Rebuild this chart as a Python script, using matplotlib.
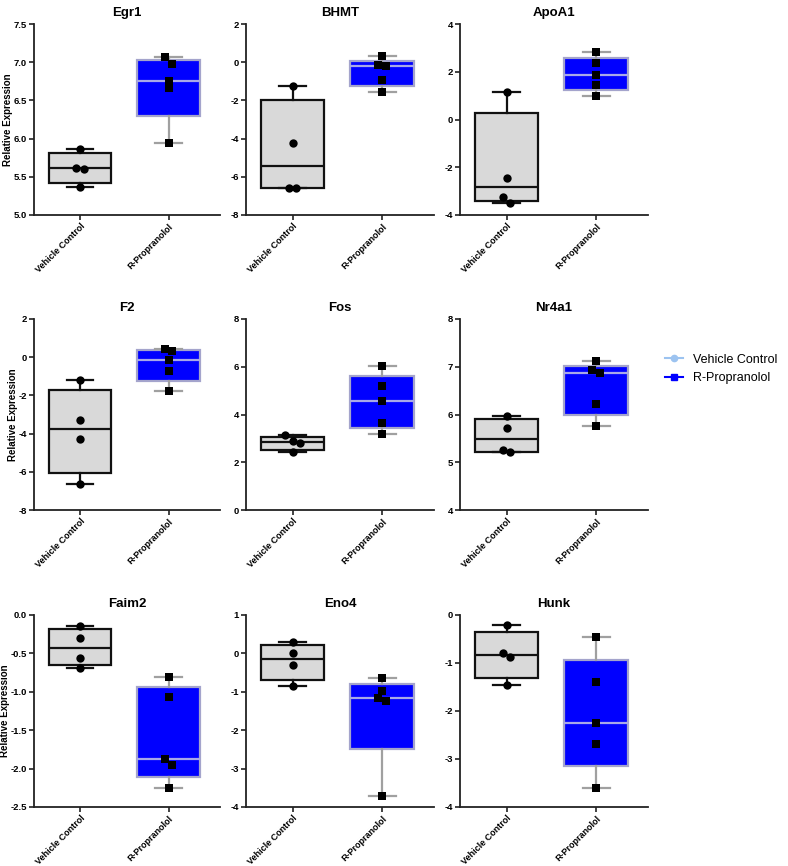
import numpy as np
import matplotlib
matplotlib.use("Agg")
import matplotlib.pyplot as plt
from matplotlib.lines import Line2D

plt.rcParams['font.family'] = ['Liberation Sans', 'DejaVu Sans']

groups = ["Vehicle Control", "R-Propranolol"]
genes = ["Egr1", "BHMT", "ApoA1", "F2", "Fos", "Nr4a1", "Faim2", "Eno4", "Hunk"]

egr1_vehicle = [5.87, 5.62, 5.60, 5.36]
egr1_rprop = [7.065, 6.98, 6.76, 6.66, 5.94]
bhmt_vehicle = [-1.22, -4.25, -6.60, -6.61]
bhmt_rprop = [0.30, -0.16, -0.19, -0.93, -1.57]
apoa1_vehicle = [1.17, -2.45, -3.24, -3.49]
apoa1_rprop = [2.82, 2.37, 1.85, 1.45, 1.00]
f2_vehicle = [-1.21, -3.27, -4.27, -6.63]
f2_rprop = [0.44, 0.30, -0.13, -0.73, -1.77]
fos_vehicle = [3.13, 2.91, 2.81, 2.41]
fos_rprop = [6.04, 5.19, 4.56, 3.65, 3.19]
nr4a1_vehicle = [5.96, 5.72, 5.26, 5.21]
nr4a1_rprop = [7.12, 6.93, 6.86, 6.23, 5.76]
faim2_vehicle = [-0.143, -0.30, -0.555, -0.685]
faim2_rprop = [-0.805, -1.07, -1.88, -1.957, -2.25]
eno4_vehicle = [0.305, 0.0, -0.29, -0.84]
eno4_rprop = [-0.64, -0.97, -1.17, -1.25, -3.71]
hunk_vehicle = [-0.21, -0.79, -0.87, -1.45]
hunk_rprop = [-0.46, -1.40, -2.25, -2.68, -3.61]

vehicle_data = [egr1_vehicle, bhmt_vehicle, apoa1_vehicle, f2_vehicle, fos_vehicle,
                nr4a1_vehicle, faim2_vehicle, eno4_vehicle, hunk_vehicle]
rprop_data = [egr1_rprop, bhmt_rprop, apoa1_rprop, f2_rprop, fos_rprop,
              nr4a1_rprop, faim2_rprop, eno4_rprop, hunk_rprop]

y_limits = [(5.0, 7.5), (-8, 2), (-4, 4), (-8, 2), (0, 8), (4, 8), (-2.5, 0.0), (-4, 1), (-4, 0)]
y_steps = [0.5, 2, 2, 2, 2, 1, 0.5, 1, 1]

fig = plt.figure(figsize=(7.88, 8.66), dpi=100)
W, H = 788, 866
col_x = [(34, 220), (246, 434), (460, 648)]
row_y = [(24, 215), (319, 510), (615, 807)]


def stats(vals):
    q1, med, q3 = np.percentile(vals, [25, 50, 75], method='weibull')
    return dict(med=med, q1=q1, q3=q3, whislo=min(vals), whishi=max(vals), fliers=[])


def dodge(vals, ylim, height_px, thresh_px=7.0, spacing=0.085):
    ppu = height_px / (ylim[1] - ylim[0])
    order = sorted(range(len(vals)), key=lambda i: -vals[i])
    offs = [0.0] * len(vals)
    grp = [order[0]]
    groups_ = []
    for i in order[1:]:
        if abs(vals[grp[-1]] - vals[i]) * ppu < thresh_px:
            grp.append(i)
        else:
            groups_.append(grp)
            grp = [i]
    groups_.append(grp)
    for g in groups_:
        k = len(g)
        for j, idx in enumerate(g):
            offs[idx] = (j - (k - 1) / 2) * spacing
    return offs


spine_col = '#222222'
for n, gene in enumerate(genes):
    r, c = divmod(n, 3)
    x0, x1 = col_x[c]
    yt, yb = row_y[r]
    ax = fig.add_axes([x0 / W, 1 - yb / H, (x1 - x0) / W, (yb - yt) / H])
    ylim = y_limits[n]
    ax.set_xlim(-0.52, 1.58)
    ax.set_ylim(*ylim)

    vstats = stats(vehicle_data[n])
    rstats = stats(rprop_data[n])
    ax.bxp([vstats], positions=[0], widths=0.71, capwidths=0.3, patch_artist=True,
           showfliers=False,
           boxprops=dict(facecolor='#d9d9d9', edgecolor='#111111', linewidth=1.6),
           medianprops=dict(color='#111111', linewidth=1.6),
           whiskerprops=dict(color='#111111', linewidth=1.6),
           capprops=dict(color='#111111', linewidth=1.6))
    ax.bxp([rstats], positions=[1], widths=0.71, capwidths=0.3, patch_artist=True,
           showfliers=False,
           boxprops=dict(facecolor='#0000ff', edgecolor='#a4a4cc', linewidth=1.6),
           medianprops=dict(color='#a8a8e8', linewidth=1.6),
           whiskerprops=dict(color='#a0a0a0', linewidth=1.6),
           capprops=dict(color='#a0a0a0', linewidth=1.6))

    hpx = yb - yt
    vo = dodge(vehicle_data[n], ylim, hpx)
    ro = dodge(rprop_data[n], ylim, hpx)
    ax.scatter([0 + o for o in vo], vehicle_data[n], marker='o', s=36, color='black',
               zorder=5, linewidths=0)
    ax.scatter([1 + o for o in ro], rprop_data[n], marker='s', s=34, color='black',
               zorder=5, linewidths=0)

    ticks = np.arange(ylim[0], ylim[1] + y_steps[n] / 2, y_steps[n])
    ax.set_yticks(ticks)
    if y_steps[n] < 1:
        ax.set_yticklabels([f"{t:.1f}" for t in ticks])
    else:
        ax.set_yticklabels([f"{t:.0f}" for t in ticks])
    ax.set_xticks([0, 1])
    ax.set_xticklabels(groups, rotation=45, ha='right', rotation_mode='anchor',
                       fontsize=6.5, fontweight='bold')
    for lab in ax.get_yticklabels():
        lab.set_fontweight('bold')
        lab.set_fontsize(6.8)
    ax.tick_params(axis='both', direction='out', length=3.5, width=1.2, color=spine_col, pad=1.5)
    ax.tick_params(axis='x', pad=1.5)
    for s in ['top', 'right']:
        ax.spines[s].set_visible(False)
    for s in ['left', 'bottom']:
        ax.spines[s].set_linewidth(1.3)
        ax.spines[s].set_color(spine_col)
    ax.set_title(gene, fontsize=9.5, fontweight='bold', pad=6)
    if c == 0:
        ax.set_ylabel("Relative Expression", fontsize=7.0, fontweight='bold', labelpad=0.3)
    ax.patch.set_alpha(0)

handles = [
    Line2D([0], [0], color='#9cc3f0', marker='o', markersize=4.5, linewidth=1.5),
    Line2D([0], [0], color='#0000ff', marker='s', markersize=4.5, linewidth=1.5),
]
fig.legend(handles, groups, loc='center left', bbox_to_anchor=(662 / W, 1 - 369 / H),
           frameon=False, fontsize=9, handlelength=1.5, handletextpad=0.8,
           labelspacing=0.5, borderpad=0.2, borderaxespad=0)

fig.savefig("out.png", dpi=100)
